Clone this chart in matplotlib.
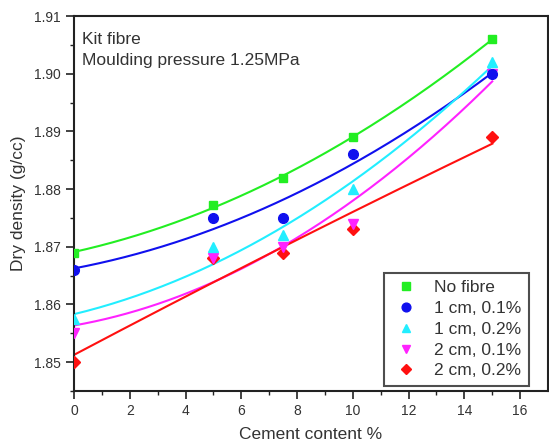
import numpy as np
import matplotlib.pyplot as plt

plt.rcParams['font.family'] = ['Liberation Sans', 'DejaVu Sans']

# ---- data ----
cement = [0, 5, 7.5, 10, 15]
no_fibre = [1.869, 1.8772, 1.882, 1.889, 1.906]
cm1_01 = [1.866, 1.875, 1.875, 1.886, 1.900]
cm1_02 = [1.8575, 1.870, 1.872, 1.880, 1.902]
cm2_01 = [1.855, 1.868, 1.870, 1.874, 1.900]
cm2_02 = [1.850, 1.868, 1.869, 1.873, 1.889]

labels = ["No fibre", "1 cm, 0.1%", "1 cm, 0.2%", "2 cm, 0.1%", "2 cm, 0.2%"]
series = [no_fibre, cm1_01, cm1_02, cm2_01, cm2_02]
colors = ["#22ee22", "#1010ee", "#22eeff", "#ff22ff", "#ff1010"]
markers = ["s", "o", "^", "v", "D"]
msizes = [6, 7, 7, 7, 6]
txt = "#333333"

fig = plt.figure(figsize=(5.49, 4.43), dpi=100)
ax = fig.add_axes([74/549, 1 - 391/443, (548-74)/549, (391-16)/443])

# quadratic fit lines over 0..15
xf = np.linspace(0, 15, 200)
for y, c in zip(series, colors):
    coef = np.polyfit(cement, y, 2)
    ax.plot(xf, np.polyval(coef, xf), color=c, lw=1.5, zorder=2)
# markers: red first, green last (on top)
for y, lab, c, m, ms in list(zip(series, labels, colors, markers, msizes))[::-1]:
    ax.plot(cement, y, ls="none", marker=m, ms=ms, color=c, mec=c, label=lab, zorder=3)

ax.set_xlim(0, 17)
ax.set_ylim(1.845, 1.91)
ax.set_xticks(np.arange(0, 17, 2))
ax.set_xticks(np.arange(0, 17, 1), minor=True)
ax.set_yticks([1.85, 1.86, 1.87, 1.88, 1.89, 1.90, 1.91])
ax.set_yticks(np.arange(1.845, 1.911, 0.005), minor=True)
ax.set_yticklabels(["1.85", "1.86", "1.87", "1.88", "1.89", "1.90", "1.91"])
ax.tick_params(which="major", direction="out", length=6, width=1.2, labelsize=10,
               labelcolor=txt, color="#222222")
ax.tick_params(which="minor", direction="out", length=3, width=1.0, color="#222222")
for s in ax.spines.values():
    s.set_linewidth(1.5)
    s.set_color("#222222")

ax.set_xlabel("Cement content %", fontsize=12.5, color=txt, labelpad=6)
ax.set_ylabel("Dry density (g/cc)", fontsize=12.5, color=txt, labelpad=6)

ax.text(0.017, 0.958, "Kit fibre\nMoulding pressure 1.25MPa", transform=ax.transAxes,
        ha="left", va="top", fontsize=12.5, color=txt, linespacing=1.5)

h, l = ax.get_legend_handles_labels()
leg = ax.legend(h[::-1], l[::-1], loc="lower right", fontsize=12.5, frameon=True,
                fancybox=False, edgecolor="#222222", handletextpad=0.8,
                handlelength=1.6, labelspacing=0.32, borderpad=0.45,
                borderaxespad=0, bbox_to_anchor=(0.96, 0.013), markerscale=0.9)
leg.get_frame().set_linewidth(1.5)
for t in leg.get_texts():
    t.set_color(txt)

fig.savefig("out.png", dpi=100)
